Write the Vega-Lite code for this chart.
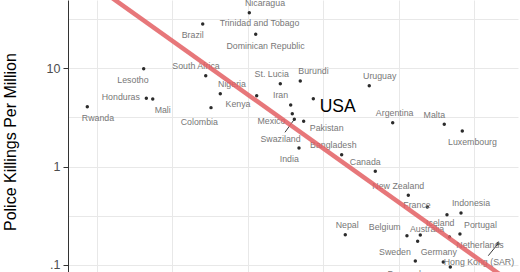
{
  "$schema": "https://vega.github.io/schema/vega-lite/v6.json",
  "width": 450,
  "height": 272,
  "autosize": {"type": "none"},
  "padding": {"left": 68, "top": 0, "right": 2, "bottom": 0},
  "datasets": {
    "countries": [
      {"country": "Brazil", "x": 2.402, "y": 28.17, "lx": 2.269, "ly": 21.92},
      {"country": "Lesotho", "x": 1.619, "y": 9.88, "lx": 1.477, "ly": 7.59},
      {"country": "Honduras", "x": 1.654, "y": 4.94, "lx": 1.316, "ly": 5.09},
      {"country": "Mali", "x": 1.739, "y": 4.86, "lx": 1.871, "ly": 3.78},
      {"country": "Rwanda", "x": 0.871, "y": 4.06, "lx": 1.013, "ly": 3.14},
      {"country": "South Africa", "x": 2.442, "y": 8.39, "lx": 2.313, "ly": 10.53},
      {"country": "Nigeria", "x": 2.635, "y": 5.5, "lx": 2.79, "ly": 6.91},
      {"country": "Colombia", "x": 2.512, "y": 3.97, "lx": 2.357, "ly": 2.856},
      {"country": "Kenya", "x": 3.118, "y": 5.25, "lx": 2.87, "ly": 4.29},
      {"country": "Nicaragua", "x": 3.02, "y": 36.7, "lx": 3.228, "ly": 45.7},
      {"country": "Dominican Republic", "x": 3.105, "y": 22.13, "lx": 3.235, "ly": 16.94},
      {"country": "Trinidad and Tobago", "x": 2.9, "y": 60, "lx": 3.155, "ly": 28.83},
      {"country": "St. Lucia", "x": 3.431, "y": 6.96, "lx": 3.317, "ly": 8.73},
      {"country": "Burundi", "x": 3.696, "y": 7.41, "lx": 3.871, "ly": 9.37},
      {"country": "Uruguay", "x": 4.611, "y": 6.64, "lx": 4.749, "ly": 8.27},
      {"country": "Iran", "x": 3.569, "y": 4.22, "lx": 3.434, "ly": 5.3},
      {"country": "Mexico", "x": 3.59, "y": 3.44, "lx": 3.314, "ly": 2.88},
      {"country": "Swaziland", "x": 3.617, "y": 3.02, "lx": 3.434, "ly": 1.905, "sx": 3.493, "sy": 2.228},
      {"country": "USA", "x": 3.869, "y": 4.89, "lx": 4.192, "ly": 4.01},
      {"country": "Pakistan", "x": 3.741, "y": 2.88, "lx": 4.046, "ly": 2.48},
      {"country": "India", "x": 3.679, "y": 1.543, "lx": 3.55, "ly": 1.192},
      {"country": "Bangladesh", "x": 4.245, "y": 1.318, "lx": 4.134, "ly": 1.667},
      {"country": "Canada", "x": 4.691, "y": 0.894, "lx": 4.558, "ly": 1.111},
      {"country": "Argentina", "x": 4.922, "y": 2.79, "lx": 4.948, "ly": 3.48},
      {"country": "Malta", "x": 5.606, "y": 2.69, "lx": 5.474, "ly": 3.34},
      {"country": "Luxembourg", "x": 5.845, "y": 2.3, "lx": 5.98, "ly": 1.763},
      {"country": "New Zealand", "x": 5.129, "y": 0.509, "lx": 4.996, "ly": 0.633},
      {"country": "France", "x": 5.381, "y": 0.387, "lx": 5.244, "ly": 0.403},
      {"country": "Iceland", "x": 5.642, "y": 0.323, "lx": 5.553, "ly": 0.268},
      {"country": "Indonesia", "x": 5.828, "y": 0.3365, "lx": 5.96, "ly": 0.422},
      {"country": "Portugal", "x": 5.814, "y": 0.2057, "lx": 6.086, "ly": 0.254},
      {"country": "Netherlands", "x": 5.675, "y": 0.1918, "lx": 6.08, "ly": 0.1601},
      {"country": "Nepal", "x": 4.293, "y": 0.2024, "lx": 4.318, "ly": 0.252},
      {"country": "Belgium", "x": 5.111, "y": 0.1977, "lx": 4.816, "ly": 0.2424},
      {"country": "Australia", "x": 5.288, "y": 0.201, "lx": 5.377, "ly": 0.2297},
      {"country": "Sweden", "x": 5.253, "y": 0.1734, "lx": 4.952, "ly": 0.1359},
      {"country": "Denmark", "x": 5.222, "y": 0.1093, "lx": 5.091, "ly": 0.0815},
      {"country": "Germany", "x": 5.593, "y": 0.1068, "lx": 5.533, "ly": 0.134},
      {"country": "Hong Kong (SAR)", "x": 6.318, "y": 0.1636, "lx": 6.066, "ly": 0.1068, "sx": 6.19, "sy": 0.1238},
      {"country": "", "x": 5.686, "y": 0.095}
    ],
    "fit": [
      {"x": 0.615, "y": 108.3},
      {"x": 6.584, "y": 0.05904}
    ]
  },
  "layer": [
    {
      "data": {"name": "countries"},
      "transform": [{"filter": "isValid(datum.sx)"}],
      "mark": {"type": "rule", "color": "#222222", "strokeWidth": 0.9},
      "encoding": {
        "x": {"field": "sx", "type": "quantitative", "scale": {"domain": [0.615, 6.584], "nice": false, "zero": false}},
        "y": {"field": "sy", "type": "quantitative", "scale": {"type": "log", "domain": [0.0845, 49.4], "nice": false}},
        "x2": {"field": "x"},
        "y2": {"field": "y"}
      }
    },
    {
      "data": {"name": "countries"},
      "mark": {"type": "circle", "size": 12, "color": "#2b2b2b", "opacity": 1, "clip": true},
      "encoding": {
        "x": {
          "field": "x", "type": "quantitative",
          "scale": {"domain": [0.615, 6.584], "nice": false, "zero": false},
          "axis": {"values": [1, 2, 3, 4, 5, 6], "labels": false, "ticks": false, "domain": false, "title": null, "grid": true, "gridColor": "#e8e8e8", "gridWidth": 1}
        },
        "y": {
          "field": "y", "type": "quantitative",
          "scale": {"type": "log", "domain": [0.0845, 49.4], "nice": false},
          "axis": {
            "values": [0.1, 0.316, 1, 3.16, 10, 31.6],
            "grid": true, "gridColor": "#e8e8e8", "gridWidth": 1,
            "domain": true, "domainColor": "#333333", "domainWidth": 1,
            "ticks": true, "tickSize": 5, "tickWidth": 1,
            "tickColor": {"condition": {"test": "datum.value == 0.1 || datum.value == 1 || datum.value == 10", "value": "#333333"}, "value": "rgba(0,0,0,0)"},
            "labelExpr": "datum.value == 0.1 ? '.1' : datum.value == 1 ? '1' : datum.value == 10 ? '10' : ''",
            "labelFont": "Liberation Sans", "labelFontSize": 12.5, "labelColor": "#4d4d4d", "labelPadding": 3,
            "title": "Police Killings Per Million",
            "titleFont": "Liberation Sans", "titleFontSize": 16, "titleFontWeight": "normal", "titleColor": "#000000",
            "titleX": -58, "titleY": 141.6, "titleAngle": 270, "titleAlign": "center", "titleBaseline": "middle"
          }
        }
      }
    },
    {
      "data": {"name": "countries"},
      "transform": [{"filter": "isValid(datum.lx) && datum.country !== 'USA'"}],
      "mark": {"type": "text", "font": "Liberation Sans", "fontSize": 8.8, "color": "#777777", "align": "center", "baseline": "middle"},
      "encoding": {
        "x": {"field": "lx", "type": "quantitative"},
        "y": {"field": "ly", "type": "quantitative"},
        "text": {"field": "country"}
      }
    },
    {
      "data": {"name": "countries"},
      "transform": [{"filter": "datum.country === 'USA'"}],
      "mark": {"type": "text", "font": "Liberation Sans", "fontSize": 17.5, "color": "#000000", "align": "center", "baseline": "middle"},
      "encoding": {
        "x": {"field": "lx", "type": "quantitative"},
        "y": {"field": "ly", "type": "quantitative"},
        "text": {"field": "country"}
      }
    },
    {
      "data": {"name": "fit"},
      "mark": {"type": "line", "color": "#e35f63", "strokeWidth": 4.5, "opacity": 0.85, "clip": true},
      "encoding": {
        "x": {"field": "x", "type": "quantitative"},
        "y": {"field": "y", "type": "quantitative"}
      }
    }
  ],
  "config": {"view": {"stroke": null}}
}
